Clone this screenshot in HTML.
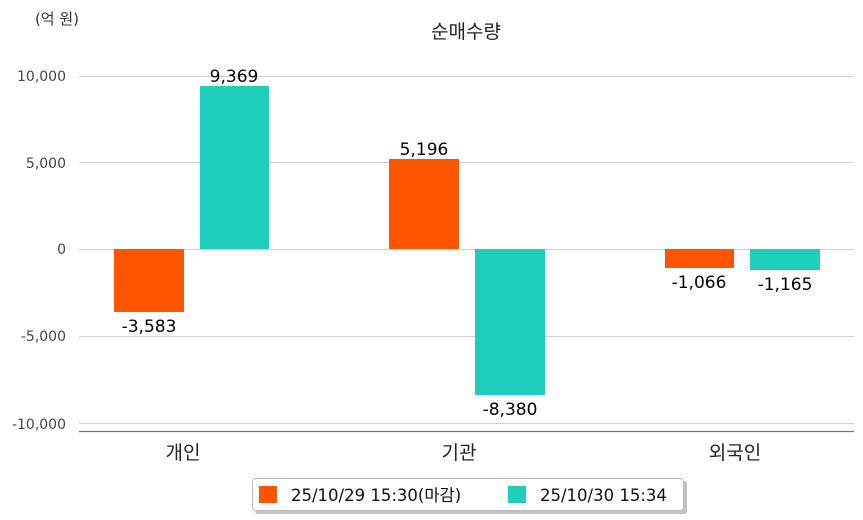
<!DOCTYPE html>
<html><head><meta charset="utf-8"><style>
html,body{margin:0;padding:0;background:#fff;}
svg{display:block;font-family:"DejaVu Sans","Noto Sans CJK KR",sans-serif;}
</style></head><body>
<svg width="863" height="520" viewBox="0 0 863 520" xmlns="http://www.w3.org/2000/svg">
<rect width="863" height="520" fill="#fff"/>
<text x="57" y="24" font-size="15" fill="#333" text-anchor="middle">(억 원)</text>
<text x="466" y="38" font-size="19" fill="#222" text-anchor="middle">순매수량</text>
<g stroke="#cfcfcf" stroke-width="1">
<line x1="79" y1="76.5" x2="854" y2="76.5"/>
<line x1="79" y1="162.5" x2="854" y2="162.5"/>
<line x1="79" y1="249.5" x2="854" y2="249.5"/>
<line x1="79" y1="336.5" x2="854" y2="336.5"/>
<line x1="79" y1="423.5" x2="854" y2="423.5"/>
</g>
<line x1="79" y1="431.5" x2="854" y2="431.5" stroke="#777" stroke-width="1.2"/>
<g font-size="14" fill="#444" text-anchor="end">
<text x="66" y="81">10,000</text>
<text x="66" y="168">5,000</text>
<text x="66" y="254">0</text>
<text x="66" y="341">-5,000</text>
<text x="66" y="429">-10,000</text>
</g>
<rect x="114" y="249" width="70" height="63" fill="#ff5500"/>
<rect x="200" y="86" width="69" height="163" fill="#1dcebd"/>
<rect x="389" y="159" width="70" height="90" fill="#ff5500"/>
<rect x="475" y="249" width="70" height="146" fill="#1dcebd"/>
<rect x="665" y="249" width="69" height="19" fill="#ff5500"/>
<rect x="750" y="249" width="70" height="21" fill="#1dcebd"/>
<g font-size="17" fill="#000" text-anchor="middle">
<text x="149" y="332">-3,583</text>
<text x="234" y="82">9,369</text>
<text x="424" y="155">5,196</text>
<text x="510" y="415">-8,380</text>
<text x="699" y="288">-1,066</text>
<text x="785" y="290">-1,165</text>
</g>
<g font-size="19" fill="#222" text-anchor="middle">
<text x="183" y="459">개인</text>
<text x="459" y="459">기관</text>
<text x="735" y="459">외국인</text>
</g>
<rect x="255" y="481" width="432" height="33" rx="3" fill="#999" opacity="0.6"/>
<rect x="252.5" y="478.5" width="431" height="32" rx="3" fill="#fff" stroke="#bbb"/>
<rect x="259" y="486" width="18" height="17" fill="#ff5500"/>
<text x="291" y="501" font-size="16.5" fill="#111">25/10/29 15:30(마감)</text>
<rect x="508" y="486" width="18" height="17" fill="#1dcebd"/>
<text x="540" y="501" font-size="16.5" fill="#111">25/10/30 15:34</text>
</svg>
</body></html>
